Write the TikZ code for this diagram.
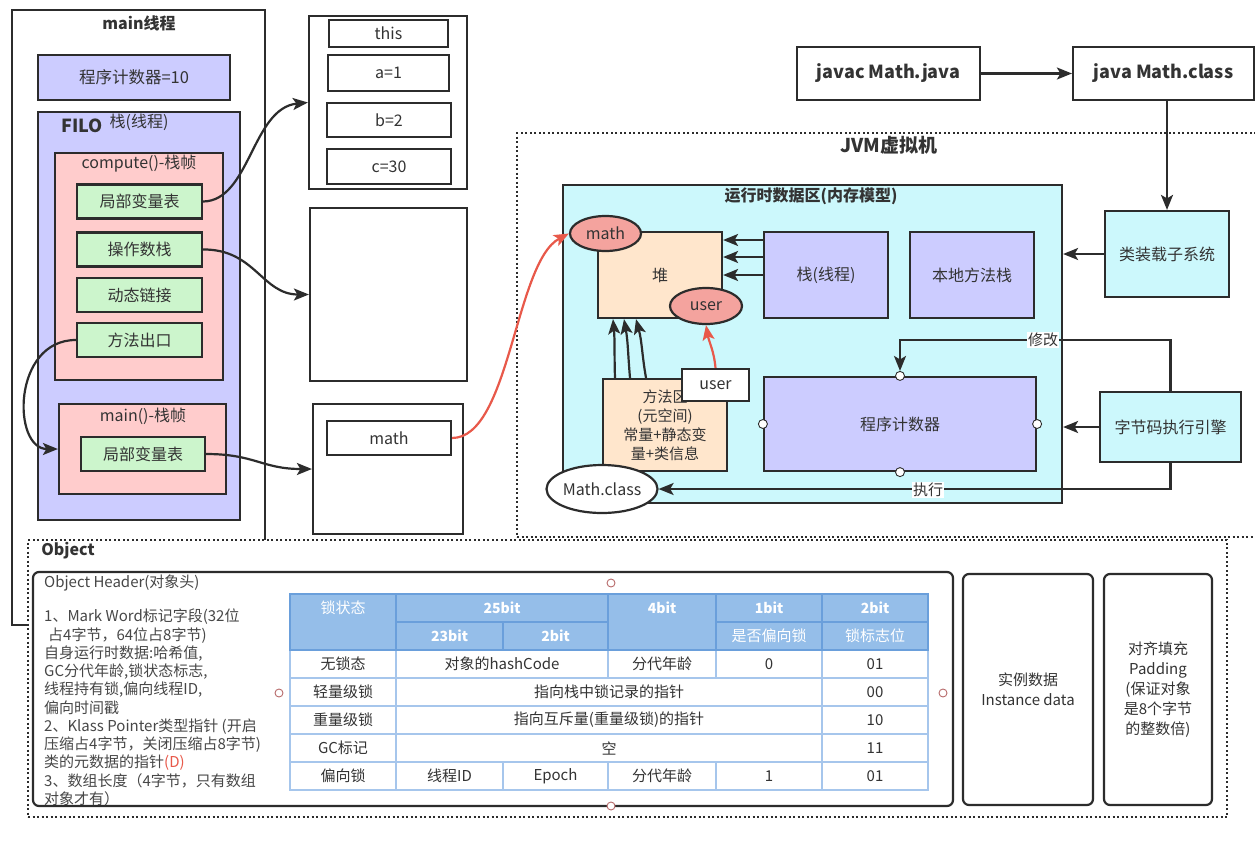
\documentclass[tikz,border=0pt]{standalone}
\usepackage{fontspec}
\setmainfont{Noto Sans CJK SC}
\usetikzlibrary{arrows.meta,shapes.geometric,calc}
\definecolor{lav}{HTML}{CCCCFF}
\definecolor{pinkf}{HTML}{FFCCCC}
\definecolor{greenf}{HTML}{CCF5CC}
\definecolor{cyanf}{HTML}{CCF8FC}
\definecolor{peach}{HTML}{FFE6CC}
\definecolor{salmon}{HTML}{F4A39E}
\definecolor{redl}{HTML}{E8594A}
\definecolor{ln}{HTML}{2C2C2C}
\definecolor{tx}{HTML}{333333}
\definecolor{thead}{HTML}{95BEE9}
\definecolor{tline}{HTML}{A6C6EC}
\definecolor{tdark}{HTML}{6A9FDB}
\definecolor{hnd}{HTML}{B86B6B}
\begin{document}
\begin{tikzpicture}[x=1pt,y=-1pt,
  box/.style={draw=ln,line width=2.2pt,inner sep=0pt,text=tx,align=center},
  t15/.style={font=\fontsize{15}{18}\selectfont,text=tx},
  t16/.style={font=\fontsize{16}{19}\selectfont,text=tx},
  b16/.style={font=\bfseries\fontsize{16}{19}\selectfont,text=tx},
  b18/.style={font=\bfseries\fontsize{18}{21}\selectfont,text=tx},
  dotbox/.style={draw=ln,line width=2.2pt,dash pattern=on 2pt off 2.5pt,inner sep=0pt},
  rbox/.style={draw=ln,line width=2.2pt,rounded corners=6pt,inner sep=0pt,text=tx,align=center},
  arr/.style={draw=ln,line width=2.2pt,-{Stealth[length=15pt,width=12pt,inset=3.5pt]}},
  rarr/.style={draw=redl,line width=2.2pt,-{Stealth[length=15pt,width=12pt,inset=3.5pt]}},
  hnd/.style={circle,draw=hnd,line width=0.9pt,fill=white,minimum size=8pt,inner sep=0pt},
  pcdot/.style={circle,draw=ln,line width=0.9pt,fill=white,minimum size=9pt,inner sep=0pt},
  hd/.style={font=\bfseries\fontsize{14}{17}\selectfont,text=white},
  hdn/.style={font=\fontsize{15}{18}\selectfont,text=white},
  td/.style={font=\fontsize{15}{18}\selectfont,text=tx},
  oh/.style={font=\fontsize{15}{18}\selectfont,text=tx!90,anchor=west,inner sep=0pt},
]
\useasboundingbox (0,0) rectangle (1255,841);
\fill[white] (0,0) rectangle (1255,841);

% ---------------- main thread ----------------
\node[box,minimum width=253pt,minimum height=615pt] (mainT) at (138.5,317.5) {};
\node[b16] (mainTt) at (139,23) {main线程};
\node[box,fill=lav,minimum width=192pt,minimum height=45pt,font=\fontsize{16.5}{19}\selectfont] (pc10) at (134,77.5) {程序计数器=10};
\node[box,fill=lav,minimum width=202pt,minimum height=408pt] (filo) at (139,316) {};
\node[b18] (filoT) at (82,126) {FILO};
\node[t16] (filoS) at (139,122) {栈(线程)};
\node[box,fill=pinkf,minimum width=168pt,minimum height=227pt] (cf) at (139,266.5) {};
\node[t16] (cfT) at (139,164) {compute()-栈帧};
\node[box,fill=greenf,minimum width=125pt,minimum height=34pt,t16] (lv1) at (139.5,201.5) {局部变量表};
\node[box,fill=greenf,minimum width=125pt,minimum height=34pt,t16] (ops) at (139.5,249.5) {操作数栈};
\node[box,fill=greenf,minimum width=125pt,minimum height=34pt,t16] (dyn) at (139.5,295) {动态链接};
\node[box,fill=greenf,minimum width=125pt,minimum height=34pt,t16] (mex) at (139.5,340) {方法出口};
\node[box,fill=pinkf,minimum width=167pt,minimum height=90pt] (mf) at (142.5,449) {};
\node[t16] (mfT) at (143,416) {main()-栈帧};
\node[box,fill=greenf,minimum width=124pt,minimum height=34pt,t16] (mlv) at (143,454) {局部变量表};

% ---------------- middle column ----------------
\node[box,minimum width=158pt,minimum height=173pt] (fr) at (388,102.5) {};
\node[box,minimum width=119pt,minimum height=27pt,t16] (vthis) at (388.5,33.5) {this};
\node[box,minimum width=121pt,minimum height=36pt,t16] (va) at (388.5,73) {a=1};
\node[box,minimum width=124pt,minimum height=34pt,t16] (vb) at (389,120) {b=2};
\node[box,minimum width=124pt,minimum height=35pt,t16] (vc) at (389,166.5) {c=30};
\node[box,minimum width=157pt,minimum height=173pt] (opbox) at (388.5,294.5) {};
\node[box,minimum width=150pt,minimum height=130pt] (mvar) at (388,469) {};
\node[box,minimum width=124pt,minimum height=34pt,t16] (mth) at (389,438) {math};

\draw[arr] (lv1.east) .. controls (250,201) and (252,108) .. (fr.west);
\draw[arr] (ops.east) .. controls (255,249) and (262,294.5) .. (opbox.west);
\draw[arr] (mex.west) .. controls (12,340) and (12,449) .. (mf.west);
\draw[arr] (mlv.east) .. controls (255,454) and (262,469) .. (mvar.west);

% ---------------- JVM ----------------
\node[dotbox,minimum width=748pt,minimum height=404pt] (jvm) at (891,335) {};
\node[b18,font=\bfseries\fontsize{19}{22}\selectfont] (jvmT) at (889,145) {JVM虚拟机};
\node[box,minimum width=183pt,minimum height=53pt,b18] (javac) at (888.5,73.5) {javac Math.java};
\node[box,minimum width=181pt,minimum height=53pt,b18] (javacl) at (1163.5,73.5) {java Math.class};
\draw[arr] (javac.east) -- (javacl.west);

\node[box,fill=cyanf,minimum width=499pt,minimum height=318pt] (rt) at (812.5,344) {};
\node[b16] (rtT) at (811,196) {运行时数据区(内存模型)};
\node[box,fill=peach,minimum width=124pt,minimum height=86pt,t16] (heap) at (660,275) {堆};
\node[box,fill=lav,minimum width=124pt,minimum height=86pt,t16] (stk) at (826,275) {栈(线程)};
\node[box,fill=lav,minimum width=124pt,minimum height=86pt,t16] (nstk) at (972,275) {本地方法栈};
\node[ellipse,draw=ln,line width=2.2pt,fill=salmon,minimum width=71pt,minimum height=35pt,inner sep=0pt,t16] (hmath) at (605.5,233.5) {math};
\node[ellipse,draw=ln,line width=2.2pt,fill=salmon,minimum width=72pt,minimum height=36pt,inner sep=0pt,t16] (huser) at (706,306) {user};
\draw[arr] ([yshift=35pt]stk.west) -- ([yshift=35pt]heap.east);
\draw[arr] ([yshift=18pt]stk.west) -- ([yshift=18pt]heap.east);
\draw[arr] (stk.west) -- (heap.east);

\node[box,fill=peach,minimum width=124pt,minimum height=92pt,font=\fontsize{15}{19}\selectfont] (ma) at (665,425) {方法区\\(元空间)\\常量+静态变\\量+类信息};
\node[box,fill=white,minimum width=67pt,minimum height=32pt,t16] (ubox) at (715.5,385) {user};
\draw[arr] ([xshift=-50pt]ma.north) to[out=92,in=-85] ([xshift=-47pt]heap.south);
\draw[arr] ([xshift=-35pt]ma.north) to[out=95,in=-80] ([xshift=-36pt]heap.south);
\draw[arr] ([xshift=-19pt]ma.north) to[out=100,in=-75] ([xshift=-24pt]heap.south);
\draw[rarr] (ubox.north) to[out=95,in=-80] (huser.south);

\node[box,fill=lav,minimum width=272pt,minimum height=94pt,t16] (pc) at (900,424) {程序计数器};
\node[pcdot] (pcN) at (pc.north) {};
\node[pcdot] (pcS) at (pc.south) {};
\node[pcdot] (pcW) at (pc.west) {};
\node[pcdot] (pcE) at (pc.east) {};
\node[ellipse,draw=ln,line width=2.2pt,fill=white,minimum width=111pt,minimum height=48pt,inner sep=0pt,t16] (mc) at (602,489) {Math.class};

\node[box,fill=cyanf,minimum width=124pt,minimum height=86pt,t16] (loader) at (1167,254) {类装载子系统};
\node[box,fill=cyanf,minimum width=141pt,minimum height=70pt,t16] (eng) at (1170.5,427) {字节码执行引擎};
\draw[arr] (javacl.south -| loader.north) -- (loader.north);
\draw[arr] (loader.west) -- (loader.west -| rt.east);
\draw[arr] (eng.west) -- (eng.west -| rt.east);
\coordinate (modc) at (1000,340);
\draw[arr] (eng.north) -- (eng.north |- modc) -- (pcN.north |- modc) -- (pcN.north);
\node[fill=white,inner sep=1pt,t15] (modL) at (1043,340) {修改};
\draw[arr] (eng.south) -- (eng.south |- mc.east) -- (mc.east);
\node[fill=white,inner sep=1pt,t15] (exL) at (928,490) {执行};

\draw[rarr] (mth.east) .. controls (510,438) and (515,262) .. (hmath.west);

% ---------------- Object ----------------
\node[dotbox,fill=white,minimum width=1199pt,minimum height=277pt] (obj) at (627.5,678.5) {};
\node[b16] (objT) at (68,551) {Object};
\node[rbox,minimum width=920pt,minimum height=234pt] (ohd) at (493,689) {};
\node[oh] (l0) at (44,583) {Object Header(对象头)};
\node[oh] (l1) at (44,617) {1、Mark Word标记字段(32位};
\node[oh] (l2) at (48,635.2) {占4字节，64位占8字节)};
\node[oh] (l3) at (44,653.4) {自身运行时数据:哈希值,};
\node[oh] (l4) at (44,671.6) {GC分代年龄,锁状态标志,};
\node[oh] (l5) at (44,689.8) {线程持有锁,偏向线程ID,};
\node[oh] (l6) at (44,708) {偏向时间戳};
\node[oh] (l7) at (44,726.2) {2、Klass Pointer类型指针 (开启};
\node[oh] (l8) at (44,744.4) {压缩占4字节，关闭压缩占8字节)};
\node[oh] (l9) at (44,762.6) {类的元数据的指针\textcolor{redl}{(D)}};
\node[oh] (l10) at (44,780.8) {3、数组长度（4字节，只有数组};
\node[oh] (l11) at (44,799) {对象才有）};

% table
\fill[thead] (290,594) rectangle (928,650);
\fill[white] (290,650) rectangle (928,790);
\begin{scope}[draw=tline,line width=1.2pt]
  \foreach \yy in {678,706,734,762} {\draw (290,\yy) -- (928,\yy);}
  \draw (290,650) rectangle (928,790);
  \draw (396,650) -- (396,790);
  \draw (822,650) -- (822,790);
  \draw (608,650) -- (608,678);
  \draw (716,650) -- (716,678);
  \draw (608,762) -- (608,790);
  \draw (716,762) -- (716,790);
  \draw (503,762) -- (503,790);
\end{scope}
\begin{scope}[draw=tdark,line width=1.3pt]
  \draw (290,594) rectangle (928,650);
  \foreach \xx in {396,608,716,822} {\draw (\xx,594) -- (\xx,650);}
  \draw (503,622) -- (503,650);
  \draw (396,622) -- (608,622);
  \draw (716,622) -- (928,622);
\end{scope}
\node[hdn] (h1) at (343,608) {锁状态};
\node[hd] (h2) at (502,608) {25bit};
\node[hd] (h3) at (449.5,636) {23bit};
\node[hd] (h4) at (555.5,636) {2bit};
\node[hd] (h5) at (662,608) {4bit};
\node[hd] (h6) at (769,608) {1bit};
\node[hd] (h7) at (875,608) {2bit};
\node[hdn] (h8) at (769,636) {是否偏向锁};
\node[hdn] (h9) at (875,636) {锁标志位};

\node[td] (r1a) at (343,664) {无锁态};
\node[td] (r1b) at (502,664) {对象的hashCode};
\node[td] (r1c) at (662,664) {分代年龄};
\node[td] (r1d) at (769,664) {0};
\node[td] (r1e) at (875,664) {01};
\node[td] (r2a) at (343,692) {轻量级锁};
\node[td] (r2b) at (609,692) {指向栈中锁记录的指针};
\node[td] (r2e) at (875,692) {00};
\node[td] (r3a) at (343,720) {重量级锁};
\node[td] (r3b) at (609,720) {指向互斥量(重量级锁)的指针};
\node[td] (r3e) at (875,720) {10};
\node[td] (r4a) at (343,748) {GC标记};
\node[td] (r4b) at (609,748) {空};
\node[td] (r4e) at (875,748) {11};
\node[td] (r5a) at (343,776) {偏向锁};
\node[td] (r5b) at (449.5,776) {线程ID};
\node[td] (r5c) at (555.5,776) {Epoch};
\node[td] (r5d) at (662,776) {分代年龄};
\node[td] (r5e) at (769,776) {1};
\node[td] (r5f) at (875,776) {01};

\node[hnd] (hN) at (611,583) {};
\node[hnd] (hS) at (611,806) {};
\node[hnd] (hW) at (279,693) {};
\node[hnd] (hE) at (943,693) {};

\node[rbox,minimum width=130pt,minimum height=231pt,font=\fontsize{15}{20}\selectfont] (inst) at (1028,689.5) {实例数据\\Instance data};
\node[rbox,minimum width=108pt,minimum height=231pt,font=\fontsize{15}{20}\selectfont] (pad) at (1158,689.5) {对齐填充\\Padding\\(保证对象\\是8个字节\\的整数倍)};
\end{tikzpicture}
\end{document}
